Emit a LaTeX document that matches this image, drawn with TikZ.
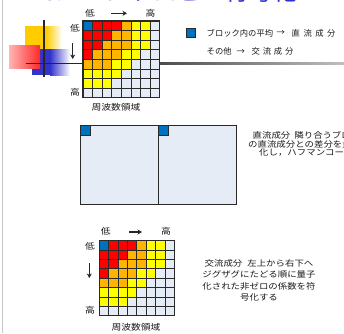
\documentclass[tikz,border=0pt]{standalone}
\usepackage{fontspec}
\usetikzlibrary{arrows.meta}
\newfontfamily\jp[FakeStretch=1.15]{Noto Sans CJK JP}
\newfontfamily\jpn{Noto Sans CJK JP}
\definecolor{cB}{HTML}{0070C0}
\definecolor{cR}{HTML}{FF0000}
\definecolor{cO}{HTML}{FFB400}
\definecolor{cY}{HTML}{FFFF00}
\definecolor{cW}{HTML}{E6ECF5}
\definecolor{gridline}{HTML}{2A2A2A}
\definecolor{titleblue}{HTML}{3333CC}
\definecolor{decoyel}{HTML}{FFCC00}
\definecolor{decoblue}{HTML}{3333CC}
\definecolor{decored}{HTML}{FF2A2A}
\newcommand\dctgrid[3]{%
  \begin{scope}[shift={(#1,#2)}]
    \foreach \row [count=\r from 0] in {{B,R,R,R,O,Y,Y,W},{R,R,R,O,O,Y,Y,W},{R,R,O,O,O,Y,Y,W},{R,O,O,O,Y,Y,W,W},{O,O,O,Y,Y,W,W,W},{Y,Y,Y,Y,W,W,W,W},{Y,Y,Y,W,W,W,W,W},{W,W,W,W,W,W,W,W}}{
      \foreach \c [count=\k from 0] in \row {
        \filldraw[fill=c\c, draw=gridline, line width=0.9pt] (\k*#3,\r*#3) rectangle ++(#3,#3);
      }
    }
    \draw[gridline, line width=1.1pt] (0,0) rectangle (8*#3,8*#3);
  \end{scope}}
\tikzset{
  lbl/.style={font=\jp\fontsize{8.5}{9}\selectfont, inner sep=0pt, text=black!90},
  legend/.style={font=\jpn\fontsize{8.3}{9}\selectfont, inner sep=0pt, text=black!90, anchor=west},
  body/.style={font=\jp\fontsize{8.2}{9}\selectfont, inner sep=0pt, text=black!90},
  dirarrow/.style={line width=1.4pt, black!85, -{Stealth[length=4.5pt,width=5pt]}},
  blockbox/.style={fill=cW, draw=gridline, line width=0.9pt},
  dcbox/.style={fill=cB, draw=gridline, line width=0.7pt},
}
\begin{document}
\begin{tikzpicture}[x=1pt,y=-1pt]
\useasboundingbox (0,0) rectangle (344,333);
\begin{scope}
\clip (0,0) rectangle (344,333);
\fill[white] (0,0) rectangle (344,333);
% slide border
\draw[black!22, line width=0.8pt] (2.5,0) -- (2.5,333);
% title (cut off at top)
\node[anchor=base west, font=\jpn\fontsize{24}{26}\selectfont, text=titleblue, inner sep=0pt] (title) at (43,0.6) {8.2 エントロピー符号化};
% decoration
\fill[decoyel] (25,26) rectangle (46,60);
\shade[left color=decoyel, right color=white] (46,26) rectangle (62,60);
\fill[decoblue] (32,49) rectangle (50,75);
\shade[left color=decoblue, right color=white] (50,49) rectangle (70,75);
\shade[left color=decored!35, right color=decored] (9,45) rectangle (40,68);
\draw[black!85, line width=1.5pt] (44,20) -- (44,77);
\coordinate (hl) at (26,63.3);
\coordinate (gl) at (83,63.3);
\draw[black!85, line width=1.5pt] (hl) -- (gl);
\shade[left color=black!70, right color=black!25] (160,62.2) rectangle (344,64.4);
% top grid
\dctgrid{83}{21}{9.6}
\node[lbl] (tl1) at (90,13) {低};
\node[lbl] (th1) at (150.5,13) {高};
\coordinate (ta1) at (111,13.3);
\coordinate (tb1) at (127,13.3);
\draw[dirarrow] (ta1) -- (tb1);
\node[lbl] (ll1) at (75,28) {低};
\node[lbl] (lh1) at (75,92.5) {高};
\coordinate (la1) at (72.7,43);
\coordinate (lb1) at (72.7,59);
\draw[dirarrow] (la1) -- (lb1);
\node[lbl] (fd1) at (116,107.5) {周波数領域};
% legend
\filldraw[dcbox] (186,28.5) rectangle (195,37.5);
\node[legend] (lg1) at (206.5,33) {ブロック内の平均};
\node[legend] (lga) at (276.5,33) {→};
\node[legend] (lg2) at (291.5,33) {直\kern3.5pt 流\kern3.5pt 成\kern3.5pt 分};
\node[legend] (lg3) at (206.5,51.5) {その他};
\node[legend] (lgb) at (236.5,51.5) {→};
\node[legend] (lg4) at (251.5,51.5) {交\kern2.8pt 流\kern2.8pt 成\kern2.8pt 分};
% middle blocks
\filldraw[blockbox] (80.7,125.7) rectangle (158.3,204);
\filldraw[blockbox] (158.3,125.7) rectangle (236,204);
\filldraw[dcbox] (80.7,125.7) rectangle (90.3,135.3);
\filldraw[dcbox] (158.3,125.7) rectangle (167.9,135.3);
\node[body, anchor=west] (dc1) at (252.5,135.7) {直流成分\kern4pt 隣り合うブロック};
\node[body, anchor=west] (dc2) at (248,143.9) {の直流成分との差分を量子};
\node[body, anchor=west] (dc3) at (259,152.1) {化し，ハフマンコード化};
% bottom grid
\dctgrid{99.3}{240.7}{9.4}
\node[lbl] (tl2) at (105.7,231) {低};
\node[lbl] (th2) at (166,231) {高};
\coordinate (ta2) at (129,232);
\coordinate (tb2) at (142,232);
\draw[dirarrow] (ta2) -- (tb2);
\node[lbl] (ll2) at (90,246) {低};
\node[lbl] (lh2) at (90,310) {高};
\coordinate (la2) at (89.3,263);
\coordinate (lb2) at (89.3,278);
\draw[dirarrow] (la2) -- (lb2);
\node[lbl] (fd2) at (136,327) {周波数領域};
\node[body] (ac1) at (259,263.3) {交流成分\kern5pt 左上から右下へ};
\node[body] (ac2) at (259,274.8) {ジグザグにたどる順に量子};
\node[body] (ac3) at (259,286.3) {化された非ゼロの係数を符};
\node[body] (ac4) at (259,297.8) {号化する};
\end{scope}
\end{tikzpicture}
\end{document}
